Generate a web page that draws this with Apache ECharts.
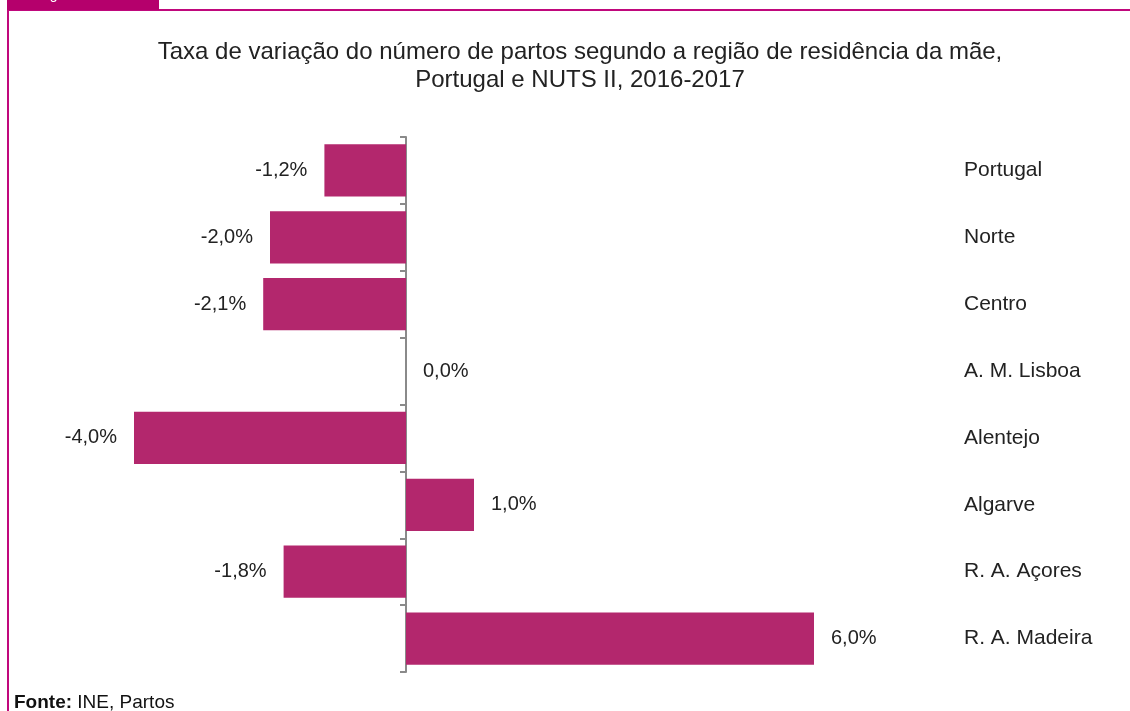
<!DOCTYPE html>
<html><head><meta charset="utf-8">
<script src="https://cdn.jsdelivr.net/npm/echarts@6/dist/echarts.min.js"></script>
<style>html,body{margin:0;padding:0;background:#fff}#c{width:1130px;height:711px}</style>
</head><body><div id="c"></div>
<script>
const categories = ['Portugal','Norte','Centro','A. M. Lisboa','Alentejo','Algarve','R. A. Açores','R. A. Madeira'];
const values = [-1.2, -2.0, -2.1, 0.0, -4.0, 1.0, -1.8, 6.0];
const titleText = 'Taxa de variação do número de partos segundo a região de residência da mãe,\nPortugal e NUTS II, 2016-2017';
const fmt = v => v.toFixed(1).replace('.', ',') + '%';
const chart = echarts.init(document.getElementById('c'));
const font = 'Liberation Sans, Arial, sans-serif';
chart.setOption({
  animation: false,
  title: {text: titleText, left: 575, top: 33, textAlign: 'center',
    textStyle: {fontFamily: font, fontSize: 24, fontWeight: 'normal', color: '#222', lineHeight: 28}},
  grid: {left: 134, right: 316, top: 137, bottom: 39},
  xAxis: {type: 'value', min: -4, max: 6, show: false},
  yAxis: [{type: 'category', data: categories, inverse: true,
    axisLine: {show: true, lineStyle: {color: '#8a8a8a', width: 2}},
    axisTick: {show: true, interval: 0, length: 6, lineStyle: {color: '#8a8a8a', width: 2}},
    axisLabel: {show: false, interval: 0}},
   {type: 'category', data: categories, inverse: true, position: 'right',
    axisLine: {show: false}, axisTick: {show: false},
    axisLabel: {margin: 150, align: 'left', fontFamily: font, fontSize: 21, color: '#222', padding: [4, 0, 0, 0]}}],
  series: [{type: 'bar', data: values.map(v => ({value: v, label: {position: v < 0 ? 'left' : 'right'}})),
    barCategoryGap: '22%', itemStyle: {color: '#b3276d'},
    label: {show: true, distance: 17, formatter: p => fmt(p.value), fontFamily: font, fontSize: 20, color: '#222', padding: [4, 0, 0, 0]}}],
  graphic: [
    {type: 'rect', shape: {x: 8, y: 10, width: 1200, height: 800}, style: {fill: 'none', stroke: '#c0087c', lineWidth: 2}},
    {type: 'rect', shape: {x: 7, y: 0, width: 152, height: 10}, style: {fill: '#b5006c'}},
    {type: 'text', left: 38, top: -12, style: {text: 'Figura 4', fill: '#fff', font: '14px ' + font}},
    {type: 'text', left: 14, top: 693, style: {text: '{b|Fonte:} INE, Partos', font: '19px ' + font, fill: '#111',
      rich: {b: {fontWeight: 'bold', fontSize: 19, fontFamily: font, fill: '#111'}}}}
  ]
});
</script></body></html>
